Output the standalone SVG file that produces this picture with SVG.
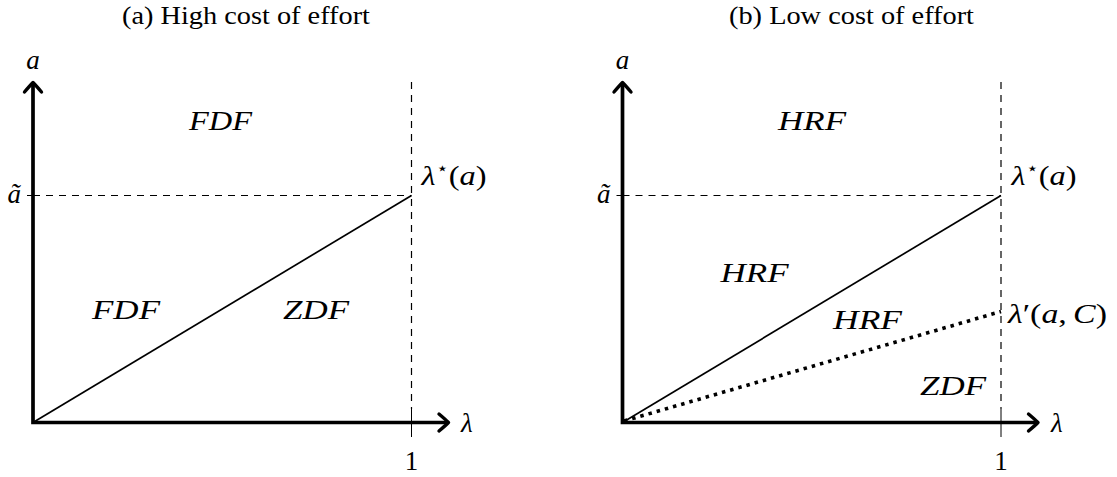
<svg xmlns="http://www.w3.org/2000/svg" width="1117" height="477" viewBox="0 0 1117 477">
<defs>
<style>
.title{font-size:26px}
.m{font-size:27px;font-style:italic}
.up{font-style:normal}
.axis{fill:none;stroke:#000;stroke-width:3.7;stroke-linejoin:miter}
.head{fill:none;stroke:#000;stroke-width:3.4;stroke-linecap:round;stroke-linejoin:round}
.dash{fill:none;stroke:#000;stroke-width:1.2;stroke-dasharray:7 6}
.tick{fill:none;stroke:#000;stroke-width:1}
.solid{fill:none;stroke:#000;stroke-width:1.7}
.dot{fill:none;stroke:#000;stroke-width:3.6;stroke-dasharray:3.5 5}
</style>
<path id="arrowhead" class="head" d="M-8.5,9.5 Q-3,3 0,0 Q3,3 8.5,9.5"/>
</defs>

<g id="panel-a" font-family="Liberation Serif" fill="#000">
  <text class="title" x="246" y="23.5" text-anchor="middle" textLength="248" lengthAdjust="spacingAndGlyphs">(a) High cost of effort</text>
  <g id="connectors-a">
    <line class="dash" x1="411.5" y1="82" x2="411.5" y2="409"/>
    <line class="tick" x1="411.5" y1="409" x2="411.5" y2="437"/>
    <line class="dash" x1="33" y1="195.5" x2="411.5" y2="195.5"/>
    <line class="tick" x1="27" y1="195.5" x2="39" y2="195.5"/>
    <line class="solid" x1="33" y1="422.5" x2="411.5" y2="195.5"/>
    <path class="axis" d="M33,84 L33,422.5 L447,422.5"/>
    <use href="#arrowhead" transform="translate(33,82.5)"/>
    <use href="#arrowhead" transform="translate(448.5,422.5) rotate(90)"/>
  </g>
  <g id="labels-a">
    <text class="m" x="33" y="69" text-anchor="middle">a</text>
    <text class="m" x="7.5" y="203">ã</text>
    <text class="m" x="461" y="432">λ</text>
    <text class="m up" x="411.5" y="470" text-anchor="middle">1</text>
    <text class="m" x="421.5" y="185" textLength="65" lengthAdjust="spacingAndGlyphs">λ<tspan class="up" font-size="17" dy="-11">⋆</tspan><tspan class="up" dy="11">(</tspan>a<tspan class="up">)</tspan></text>
    <text class="m" x="189" y="129.5" textLength="63" lengthAdjust="spacingAndGlyphs">FDF</text>
    <text class="m" x="92" y="318.5" textLength="68" lengthAdjust="spacingAndGlyphs">FDF</text>
    <text class="m" x="283" y="318.5" textLength="66" lengthAdjust="spacingAndGlyphs">ZDF</text>
  </g>
</g>

<g id="panel-b" font-family="Liberation Serif" fill="#000">
  <text class="title" x="851.5" y="23.5" text-anchor="middle" textLength="245" lengthAdjust="spacingAndGlyphs">(b) Low cost of effort</text>
  <g id="connectors-b">
    <line class="dash" x1="1001" y1="82" x2="1001" y2="409"/>
    <line class="tick" x1="1001" y1="409" x2="1001" y2="437"/>
    <line class="dash" x1="622.5" y1="195.5" x2="1001" y2="195.5"/>
    <line class="tick" x1="616.5" y1="195.5" x2="628.5" y2="195.5"/>
    <line class="solid" x1="622.5" y1="422.5" x2="1001" y2="195.5"/>
    <line class="dot" x1="624" y1="421" x2="1001" y2="311.5"/>
    <path class="axis" d="M622.5,84 L622.5,422.5 L1036.5,422.5"/>
    <use href="#arrowhead" transform="translate(622.5,82.5)"/>
    <use href="#arrowhead" transform="translate(1038,422.5) rotate(90)"/>
  </g>
  <g id="labels-b">
    <text class="m" x="622.5" y="69" text-anchor="middle">a</text>
    <text class="m" x="597" y="203">ã</text>
    <text class="m" x="1051" y="432">λ</text>
    <text class="m up" x="1001" y="470" text-anchor="middle">1</text>
    <text class="m" x="1011.5" y="185" textLength="65" lengthAdjust="spacingAndGlyphs">λ<tspan class="up" font-size="17" dy="-11">⋆</tspan><tspan class="up" dy="11">(</tspan>a<tspan class="up">)</tspan></text>
    <text class="m" x="1008" y="323" textLength="99" lengthAdjust="spacingAndGlyphs">λ<tspan class="up">′(</tspan>a<tspan class="up">,</tspan><tspan dx="5">C</tspan><tspan class="up">)</tspan></text>
    <text class="m" x="778" y="129.5" textLength="68" lengthAdjust="spacingAndGlyphs">HRF</text>
    <text class="m" x="720.5" y="282" textLength="68" lengthAdjust="spacingAndGlyphs">HRF</text>
    <text class="m" x="833" y="329" textLength="69" lengthAdjust="spacingAndGlyphs">HRF</text>
    <text class="m" x="920" y="395" textLength="66" lengthAdjust="spacingAndGlyphs">ZDF</text>
  </g>
</g>
</svg>
